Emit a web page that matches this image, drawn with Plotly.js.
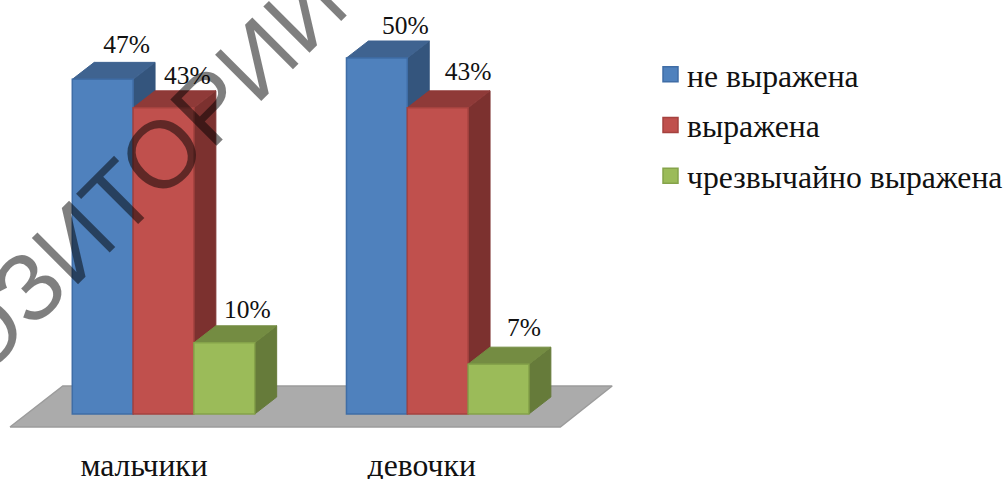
<!DOCTYPE html>
<html>
<head>
<meta charset="utf-8">
<script src="https://cdn.plot.ly/plotly-3.0.1.min.js"></script>
<style>html,body{margin:0;padding:0;background:#fff}#chart{width:1008px;height:479px}</style>
</head>
<body>
<div id="chart"></div>
<script>
var categories = ['мальчики', 'девочки'];
var seriesNames = ['не выражена', 'выражена', 'чрезвычайно выражена'];
var notExpressed = [47, 50];
var expressed = [43, 43];
var extreme = [10, 7];
var seriesValues = [notExpressed, expressed, extreme];
var frontColors = ['#4F81BD', '#C0504D', '#9BBB59'];
var edgeColors = ['#3f6da6', '#a5423f', '#85a34a'];
var topColors = ['#3F6390', '#8F3A38', '#748C42'];
var sideColors = ['#34557D', '#7C312F', '#667B3A'];

var W = 1008, H = 479, plotB = 443;
var pxX = 275, pxY = 7.12;
var x0 = 164, y0 = 414;
var barW = 61 / pxX;
var depthX = 22 / pxX, depthY = 17 / pxY;
var xRange = [(0 - x0) / pxX, (W - x0) / pxX];
var yRange = [(y0 - plotB) / pxY, y0 / pxY];
var catX = categories.map(function (c, i) { return i; });
var tickNudge = [-19.5, -16];
// pixel nudges of the value labels, by series then category
var labelDx = [[2, 6.5], [2, 8.5], [1, 3.5]];
var labelDy = [[7, 5], [4, 8], [5, 9]];

function barLeft(cat, s) { return cat + (s - 1.5) * barW; }

var traces = [];
// floor
var floorXs = [(10 - x0) / pxX, (562 - x0) / pxX, (614 - x0) / pxX, (63 - x0) / pxX, (10 - x0) / pxX];
var floorYs = [(y0 - 427) / pxY, (y0 - 427) / pxY, (y0 - 386) / pxY, (y0 - 386) / pxY, (y0 - 427) / pxY];
traces.push({x: floorXs, y: floorYs, type: 'scatter', mode: 'lines', fill: 'toself', fillcolor: '#ABABAB',
  line: {color: '#9C9C9C', width: 1.5}, showlegend: false, hoverinfo: 'skip', zorder: 0});

seriesValues.forEach(function (vals, s) {
  vals.forEach(function (v, cat) {
    var l = barLeft(cat, s), r = l + barW;
    // side face
    traces.push({x: [r, r + depthX, r + depthX, r, r], y: [0, depthY, v + depthY, v, 0],
      type: 'scatter', mode: 'lines', fill: 'toself', fillcolor: sideColors[s], line: {color: sideColors[s], width: 1},
      showlegend: false, hoverinfo: 'skip', zorder: 1 + s * 2});
    // top face
    traces.push({x: [l, l + depthX, r + depthX, r, l], y: [v, v + depthY, v + depthY, v, v],
      type: 'scatter', mode: 'lines', fill: 'toself', fillcolor: topColors[s], line: {color: topColors[s], width: 1},
      showlegend: false, hoverinfo: 'skip', zorder: 1 + s * 2});
  });
  // front faces
  traces.push({x: catX, y: vals, type: 'bar', name: seriesNames[s], showlegend: false,
    marker: {color: frontColors[s], line: {color: edgeColors[s], width: 1.5}}, zorder: 2 + s * 2});
  // legend swatch
  traces.push({x: [null], y: [null], type: 'scatter', mode: 'markers', name: seriesNames[s], legendgroup: 'g' + s,
    marker: {symbol: 'square', size: 15, color: frontColors[s], line: {color: edgeColors[s], width: 1.5}}, zorder: 2});
  // value labels
  traces.push({x: catX.map(function (c) { return barLeft(c, s) + barW / 2 + depthX + labelDx[s][c] / pxX; }),
    y: vals.map(function (v, c) { return v + depthY + (labelDy[s][c] - 4) / pxY; }),
    text: vals.map(function (v) { return v + '%'; }),
    type: 'scatter', mode: 'text', textposition: 'top center',
    textfont: {family: 'Liberation Serif', size: 25.5, color: '#111'}, showlegend: false, hoverinfo: 'skip', zorder: 20});
});

var layout = {
  width: W, height: H,
  margin: {l: 0, r: 0, t: 0, b: H - plotB, pad: 0},
  paper_bgcolor: '#fff', plot_bgcolor: 'rgba(0,0,0,0)',
  barmode: 'group', bargap: 1 - 3 * barW, bargroupgap: 0,
  xaxis: {range: xRange, showgrid: false, zeroline: false, showline: false, ticks: '',
    tickmode: 'array', tickvals: catX.map(function (c) { return c + tickNudge[c] / pxX; }), ticktext: categories,
    tickfont: {family: 'Liberation Serif', size: 31.7, color: '#111'}},
  yaxis: {range: yRange, showgrid: false, zeroline: false, showline: false, showticklabels: false, ticks: ''},
  legend: {x: 649 / W, xanchor: 'left', y: 1 - 51 / H, yanchor: 'top', traceorder: 'grouped', tracegroupgap: 6.5,
    font: {family: 'Liberation Serif', size: 31.7, color: '#111'}, bgcolor: 'rgba(0,0,0,0)', borderwidth: 0},
  annotations: [{text: 'ОЗИТОРИЙ', xref: 'paper', yref: 'paper', x: 143 / W, y: 1 - 187 / H, xanchor: 'center', yanchor: 'middle',
    showarrow: false, textangle: -45, font: {family: 'Liberation Sans', size: 95, color: 'rgba(0,0,0,0.5)'}}]
};
Plotly.newPlot('chart', traces, layout, {displayModeBar: false, staticPlot: true}).then(function (gd) {
  gd.querySelectorAll('.legend .legendsymbols').forEach(function (n) {
    n.setAttribute('transform', 'translate(3.5,0)');
  });
});
</script>
</body>
</html>
